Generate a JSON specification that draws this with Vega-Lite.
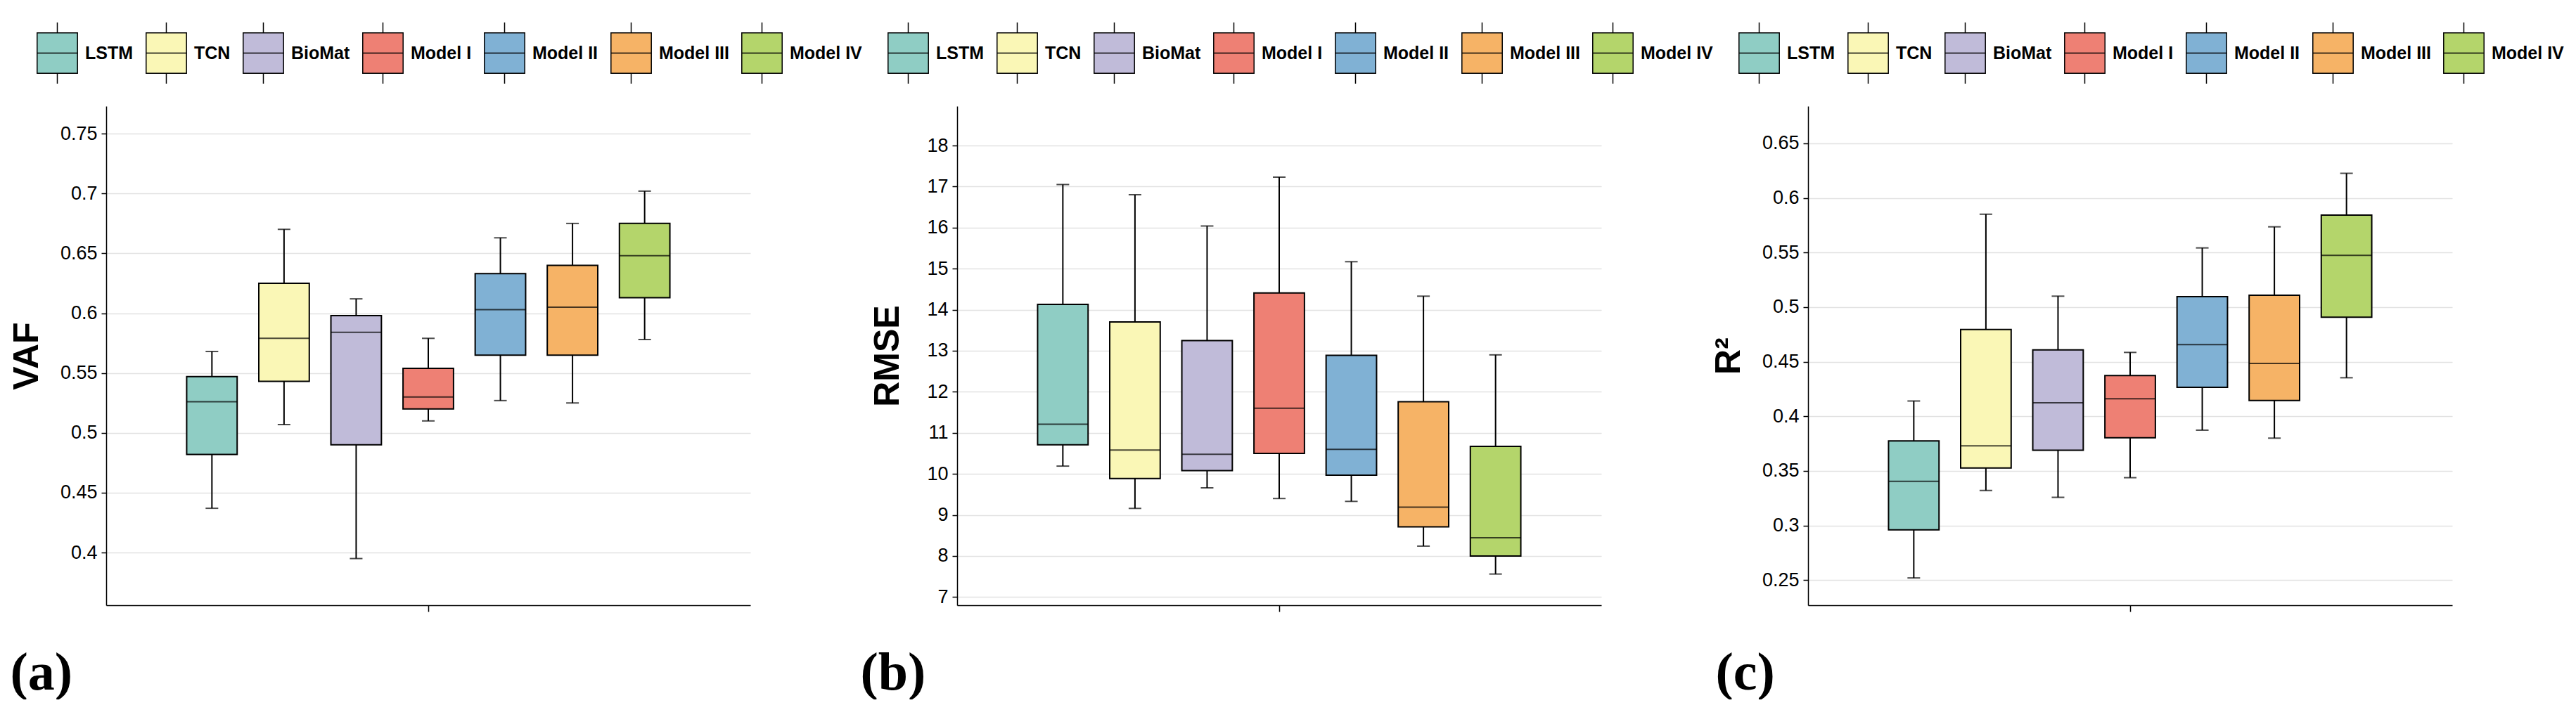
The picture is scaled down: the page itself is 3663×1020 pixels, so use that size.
{
  "$schema": "https://vega.github.io/schema/vega-lite/v6.json",
  "padding": {"left": 13, "top": 31, "right": 0, "bottom": 0},
  "background": "white",
  "config": {
    "view": {"stroke": null},
    "axis": {
      "domainColor": "black", "domainWidth": 1.5, "tickColor": "black", "tickWidth": 1.5,
      "labelFont": "Liberation Sans", "labelColor": "black", "titleColor": "black"
    },
    "legend": {"padding": 0}
  },
  "datasets": {
    "vaf": [
      {"model": "LSTM", "min": 0.437, "q1": 0.482, "median": 0.526, "q3": 0.547, "max": 0.568},
      {"model": "TCN", "min": 0.507, "q1": 0.543, "median": 0.579, "q3": 0.625, "max": 0.670},
      {"model": "BioMat", "min": 0.395, "q1": 0.490, "median": 0.584, "q3": 0.598, "max": 0.612},
      {"model": "Model I", "min": 0.510, "q1": 0.520, "median": 0.530, "q3": 0.554, "max": 0.579},
      {"model": "Model II", "min": 0.527, "q1": 0.565, "median": 0.603, "q3": 0.633, "max": 0.663},
      {"model": "Model III", "min": 0.525, "q1": 0.565, "median": 0.605, "q3": 0.640, "max": 0.675},
      {"model": "Model IV", "min": 0.578, "q1": 0.613, "median": 0.648, "q3": 0.675, "max": 0.702}
    ],
    "rmse": [
      {"model": "LSTM", "min": 10.19, "q1": 10.71, "median": 11.21, "q3": 14.13, "max": 17.05},
      {"model": "TCN", "min": 9.16, "q1": 9.885, "median": 10.58, "q3": 13.70, "max": 16.80},
      {"model": "BioMat", "min": 9.66, "q1": 10.08, "median": 10.48, "q3": 13.25, "max": 16.04},
      {"model": "Model I", "min": 9.40, "q1": 10.50, "median": 11.60, "q3": 14.41, "max": 17.23},
      {"model": "Model II", "min": 9.33, "q1": 9.97, "median": 10.60, "q3": 12.89, "max": 15.17},
      {"model": "Model III", "min": 8.24, "q1": 8.71, "median": 9.19, "q3": 11.76, "max": 14.33},
      {"model": "Model IV", "min": 7.56, "q1": 8.0, "median": 8.445, "q3": 10.67, "max": 12.90}
    ],
    "r2": [
      {"model": "LSTM", "min": 0.252, "q1": 0.296, "median": 0.3405, "q3": 0.3775, "max": 0.414},
      {"model": "TCN", "min": 0.332, "q1": 0.3526, "median": 0.373, "q3": 0.4794, "max": 0.585},
      {"model": "BioMat", "min": 0.3258, "q1": 0.369, "median": 0.4124, "q3": 0.4608, "max": 0.510},
      {"model": "Model I", "min": 0.3438, "q1": 0.3804, "median": 0.416, "q3": 0.4373, "max": 0.4585},
      {"model": "Model II", "min": 0.3873, "q1": 0.4265, "median": 0.4657, "q3": 0.5095, "max": 0.5542},
      {"model": "Model III", "min": 0.380, "q1": 0.4144, "median": 0.4484, "q3": 0.5108, "max": 0.5735},
      {"model": "Model IV", "min": 0.4353, "q1": 0.4908, "median": 0.5474, "q3": 0.5843, "max": 0.6225}
    ]
  },
  "spacing": 294,
  "bounds": "flush",
  "resolve": {
    "scale": {"x": "independent", "xOffset": "independent", "y": "independent", "fill": "independent"},
    "axis": {"x": "independent", "y": "independent"},
    "legend": {"fill": "independent"}
  },
  "hconcat": [
    {
      "width": 916, "height": 710,
      "data": {"name": "vaf"},
      "encoding": {
        "x": {"datum": "all", "type": "nominal",
          "scale": {"paddingInner": 0, "paddingOuter": 0.138},
          "axis": {"labels": false, "ticks": true, "tickSize": 9, "grid": false,
            "title": "(a)", "titleFont": "Liberation Serif", "titleFontSize": 76, "titleFontWeight": "bold",
            "titleX": -137, "titleY": 119, "titleAlign": "left", "titleBaseline": "alphabetic", "titleAngle": 0}},
        "xOffset": {"field": "model", "type": "nominal",
          "sort": ["LSTM", "TCN", "BioMat", "Model I", "Model II", "Model III", "Model IV"],
          "scale": {"paddingInner": 0.3, "paddingOuter": 0.15}}
      },
      "layer": [
        {"mark": {"type": "rule", "color": "black", "strokeWidth": 2},
          "encoding": {
            "y": {"field": "min", "type": "quantitative", "title": "VAF",
              "scale": {"domain": [0.356, 0.773], "nice": false, "zero": false},
              "axis": {"values": [0.4, 0.45, 0.5, 0.55, 0.6, 0.65, 0.7, 0.75], "format": "~g",
                "grid": true, "gridColor": "#e2e2e2", "gridWidth": 1.3,
                "tickSize": 7, "labelPadding": 6, "labelFontSize": 27,
                "titleFont": "Liberation Sans", "titleFontSize": 50, "titleFontWeight": "bold", "titlePadding": 22}},
            "y2": {"field": "max"}}},
        {"mark": {"type": "bar", "stroke": "black", "strokeWidth": 2},
          "encoding": {
            "y": {"field": "q1", "type": "quantitative", "title": "VAF"},
            "y2": {"field": "q3"},
            "fill": {"field": "model", "type": "nominal",
              "sort": ["LSTM", "TCN", "BioMat", "Model I", "Model II", "Model III", "Model IV"],
              "scale": {"domain": ["LSTM", "TCN", "BioMat", "Model I", "Model II", "Model III", "Model IV"],
                "range": ["#8fcdc4", "#faf7b6", "#c0bbd9", "#ee8074", "#80b1d4", "#f6b366", "#b4d56b"]},
              "legend": {"orient": "none", "legendX": -114, "legendY": -120, "direction": "horizontal", "columns": 7,
                "title": null, "symbolType": "M-0.66,-0.66H0.66V0.66H-0.66Z M0,-1V-0.66 M0,0.66V1 M-0.66,0H0.66",
                "symbolSize": 7569, "symbolStrokeColor": "black", "symbolStrokeWidth": 1.5, "symbolOpacity": 1,
                "labelFont": "Liberation Sans", "labelFontSize": 25, "labelFontWeight": "bold", "labelColor": "black",
                "labelOffset": -5, "columnPadding": 2}}}},
        {"mark": {"type": "tick", "orient": "horizontal", "size": 72, "thickness": 2, "color": "black"},
          "encoding": {"y": {"field": "median", "type": "quantitative", "title": "VAF"}}},
        {"mark": {"type": "tick", "orient": "horizontal", "size": 18, "thickness": 2, "color": "black"},
          "encoding": {"y": {"field": "min", "type": "quantitative", "title": "VAF"}}},
        {"mark": {"type": "tick", "orient": "horizontal", "size": 18, "thickness": 2, "color": "black"},
          "encoding": {"y": {"field": "max", "type": "quantitative", "title": "VAF"}}}
      ]
    },
    {
      "width": 916, "height": 710,
      "data": {"name": "rmse"},
      "encoding": {
        "x": {"datum": "all", "type": "nominal",
          "scale": {"paddingInner": 0, "paddingOuter": 0.138},
          "axis": {"labels": false, "ticks": true, "tickSize": 9, "grid": false,
            "title": "(b)", "titleFont": "Liberation Serif", "titleFontSize": 76, "titleFontWeight": "bold",
            "titleX": -138, "titleY": 119, "titleAlign": "left", "titleBaseline": "alphabetic", "titleAngle": 0}},
        "xOffset": {"field": "model", "type": "nominal",
          "sort": ["LSTM", "TCN", "BioMat", "Model I", "Model II", "Model III", "Model IV"],
          "scale": {"paddingInner": 0.3, "paddingOuter": 0.15}}
      },
      "layer": [
        {"mark": {"type": "rule", "color": "black", "strokeWidth": 2},
          "encoding": {
            "y": {"field": "min", "type": "quantitative", "title": "RMSE",
              "scale": {"domain": [6.8, 18.96], "nice": false, "zero": false},
              "axis": {"values": [7, 8, 9, 10, 11, 12, 13, 14, 15, 16, 17, 18], "format": "~g",
                "grid": true, "gridColor": "#e2e2e2", "gridWidth": 1.3,
                "tickSize": 7, "labelPadding": 6, "labelFontSize": 27,
                "titleFont": "Liberation Sans", "titleFontSize": 50, "titleFontWeight": "bold", "titlePadding": 30}},
            "y2": {"field": "max"}}},
        {"mark": {"type": "bar", "stroke": "black", "strokeWidth": 2},
          "encoding": {
            "y": {"field": "q1", "type": "quantitative", "title": "RMSE"},
            "y2": {"field": "q3"},
            "fill": {"field": "model", "type": "nominal",
              "sort": ["LSTM", "TCN", "BioMat", "Model I", "Model II", "Model III", "Model IV"],
              "scale": {"domain": ["LSTM", "TCN", "BioMat", "Model I", "Model II", "Model III", "Model IV"],
                "range": ["#8fcdc4", "#faf7b6", "#c0bbd9", "#ee8074", "#80b1d4", "#f6b366", "#b4d56b"]},
              "legend": {"orient": "none", "legendX": -114, "legendY": -120, "direction": "horizontal", "columns": 7,
                "title": null, "symbolType": "M-0.66,-0.66H0.66V0.66H-0.66Z M0,-1V-0.66 M0,0.66V1 M-0.66,0H0.66",
                "symbolSize": 7569, "symbolStrokeColor": "black", "symbolStrokeWidth": 1.5, "symbolOpacity": 1,
                "labelFont": "Liberation Sans", "labelFontSize": 25, "labelFontWeight": "bold", "labelColor": "black",
                "labelOffset": -5, "columnPadding": 2}}}},
        {"mark": {"type": "tick", "orient": "horizontal", "size": 72, "thickness": 2, "color": "black"},
          "encoding": {"y": {"field": "median", "type": "quantitative", "title": "RMSE"}}},
        {"mark": {"type": "tick", "orient": "horizontal", "size": 18, "thickness": 2, "color": "black"},
          "encoding": {"y": {"field": "min", "type": "quantitative", "title": "RMSE"}}},
        {"mark": {"type": "tick", "orient": "horizontal", "size": 18, "thickness": 2, "color": "black"},
          "encoding": {"y": {"field": "max", "type": "quantitative", "title": "RMSE"}}}
      ]
    },
    {
      "width": 916, "height": 710,
      "data": {"name": "r2"},
      "encoding": {
        "x": {"datum": "all", "type": "nominal",
          "scale": {"paddingInner": 0, "paddingOuter": 0.138},
          "axis": {"labels": false, "ticks": true, "tickSize": 9, "grid": false,
            "title": "(c)", "titleFont": "Liberation Serif", "titleFontSize": 76, "titleFontWeight": "bold",
            "titleX": -132, "titleY": 119, "titleAlign": "left", "titleBaseline": "alphabetic", "titleAngle": 0}},
        "xOffset": {"field": "model", "type": "nominal",
          "sort": ["LSTM", "TCN", "BioMat", "Model I", "Model II", "Model III", "Model IV"],
          "scale": {"paddingInner": 0.3, "paddingOuter": 0.15}}
      },
      "layer": [
        {"mark": {"type": "rule", "color": "black", "strokeWidth": 2},
          "encoding": {
            "y": {"field": "min", "type": "quantitative", "title": "R²",
              "scale": {"domain": [0.227, 0.684], "nice": false, "zero": false},
              "axis": {"values": [0.25, 0.3, 0.35, 0.4, 0.45, 0.5, 0.55, 0.6, 0.65], "format": "~g",
                "grid": true, "gridColor": "#e2e2e2", "gridWidth": 1.3,
                "tickSize": 7, "labelPadding": 6, "labelFontSize": 27,
                "titleFont": "Liberation Sans", "titleFontSize": 50, "titleFontWeight": "bold", "titlePadding": 22}},
            "y2": {"field": "max"}}},
        {"mark": {"type": "bar", "stroke": "black", "strokeWidth": 2},
          "encoding": {
            "y": {"field": "q1", "type": "quantitative", "title": "R²"},
            "y2": {"field": "q3"},
            "fill": {"field": "model", "type": "nominal",
              "sort": ["LSTM", "TCN", "BioMat", "Model I", "Model II", "Model III", "Model IV"],
              "scale": {"domain": ["LSTM", "TCN", "BioMat", "Model I", "Model II", "Model III", "Model IV"],
                "range": ["#8fcdc4", "#faf7b6", "#c0bbd9", "#ee8074", "#80b1d4", "#f6b366", "#b4d56b"]},
              "legend": {"orient": "none", "legendX": -114, "legendY": -120, "direction": "horizontal", "columns": 7,
                "title": null, "symbolType": "M-0.66,-0.66H0.66V0.66H-0.66Z M0,-1V-0.66 M0,0.66V1 M-0.66,0H0.66",
                "symbolSize": 7569, "symbolStrokeColor": "black", "symbolStrokeWidth": 1.5, "symbolOpacity": 1,
                "labelFont": "Liberation Sans", "labelFontSize": 25, "labelFontWeight": "bold", "labelColor": "black",
                "labelOffset": -5, "columnPadding": 2}}}},
        {"mark": {"type": "tick", "orient": "horizontal", "size": 72, "thickness": 2, "color": "black"},
          "encoding": {"y": {"field": "median", "type": "quantitative", "title": "R²"}}},
        {"mark": {"type": "tick", "orient": "horizontal", "size": 18, "thickness": 2, "color": "black"},
          "encoding": {"y": {"field": "min", "type": "quantitative", "title": "R²"}}},
        {"mark": {"type": "tick", "orient": "horizontal", "size": 18, "thickness": 2, "color": "black"},
          "encoding": {"y": {"field": "max", "type": "quantitative", "title": "R²"}}}
      ]
    }
  ]
}
